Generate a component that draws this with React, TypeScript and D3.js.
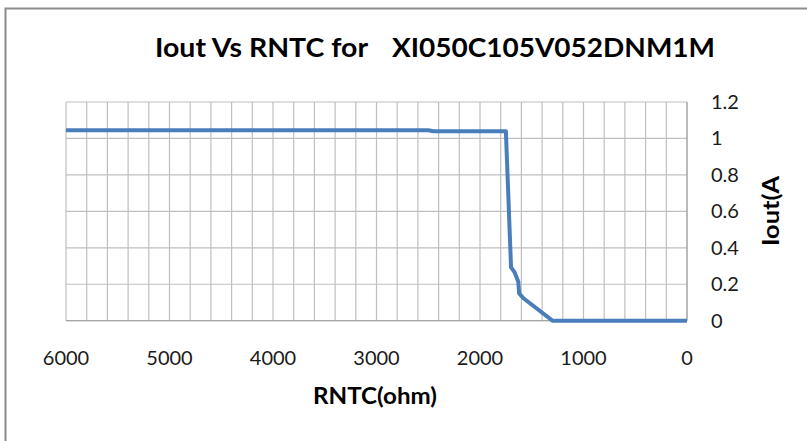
import React from "react";
import * as d3 from "d3";

const rntc = [6000, 2500, 2450, 1750, 1700, 1665, 1630, 1622, 1580, 1300, 1000, 0];
const iout = [1.045, 1.045, 1.04, 1.04, 0.293, 0.265, 0.214, 0.15, 0.123, 0, 0, 0];
const xTicks = [6000, 5000, 4000, 3000, 2000, 1000, 0];
const yTicks = [0, 0.2, 0.4, 0.6, 0.8, 1, 1.2];
const xGrid = d3.range(0, 6001, 200);

const W = 807, H = 441;
const left = 66, right = 687, top = 102, bottom = 320.7;
const font = "Lato, 'Open Sans', sans-serif";

export default function App() {
  const x = d3.scaleLinear().domain([6000, 0]).range([left, right]);
  const y = d3.scaleLinear().domain([0, 1.2]).range([bottom, top]);
  const pts = rntc.map((r, i) => [r, iout[i]] as [number, number]);
  const line = d3.line<[number, number]>().x(d => x(d[0])).y(d => y(d[1]));
  return (
    <svg width={W} height={H} style={{ position: "absolute", left: 0, top: 0 }}>
      <rect x={0} y={0} width={W} height={H} fill="#fff" />
      <rect x={5.5} y={8.5} width={W + 10} height={H + 10} fill="none" stroke="#8c8c8c" strokeWidth={2} />
      <text x={155} y={57} fontFamily={font} fontWeight="bold" fontSize={27} fill="#000" textLength={213} lengthAdjust="spacingAndGlyphs">
        Iout Vs RNTC for
      </text>
      <text x={392} y={57} fontFamily={font} fontWeight="bold" fontSize={27} fill="#000" textLength={323} lengthAdjust="spacingAndGlyphs">
        XI050C105V052DNM1M
      </text>
      {xGrid.map(v => (
        <line key={"gx" + v} x1={x(v)} x2={x(v)} y1={top} y2={bottom} stroke="#bfbfbf" strokeWidth={1.2} />
      ))}
      {yTicks.map(v => (
        <line key={"gy" + v} x1={left} x2={right} y1={y(v)} y2={y(v)} stroke="#bfbfbf" strokeWidth={1.2} />
      ))}
      <line x1={left} x2={right} y1={bottom} y2={bottom} stroke="#a6a6a6" strokeWidth={1.2} />
      <line x1={right} x2={right} y1={top} y2={bottom} stroke="#a6a6a6" strokeWidth={1.2} />
      <path d={line(pts) || ""} fill="none" stroke="#4a7ebb" strokeWidth={4} strokeLinejoin="round" />
      {xTicks.map(v => (
        <text key={"xt" + v} x={x(v)} y={365} textAnchor="middle" fontFamily={font} fontSize={20} fill="#1a1a1a">{v}</text>
      ))}
      {yTicks.map(v => (
        <text key={"yt" + v} x={711} y={y(v) + 7} textAnchor="start" fontFamily={font} fontSize={20} fill="#1a1a1a">{String(v)}</text>
      ))}
      <text x={375} y={404} textAnchor="middle" fontFamily={font} fontWeight="bold" fontSize={22} fill="#000" textLength={124} lengthAdjust="spacingAndGlyphs">RNTC(ohm)</text>
      <text transform="translate(779,211) rotate(-90)" textAnchor="middle" fontFamily={font} fontWeight="bold" fontSize={23} fill="#000" textLength={70} lengthAdjust="spacingAndGlyphs">Iout(A</text>
    </svg>
  );
}
